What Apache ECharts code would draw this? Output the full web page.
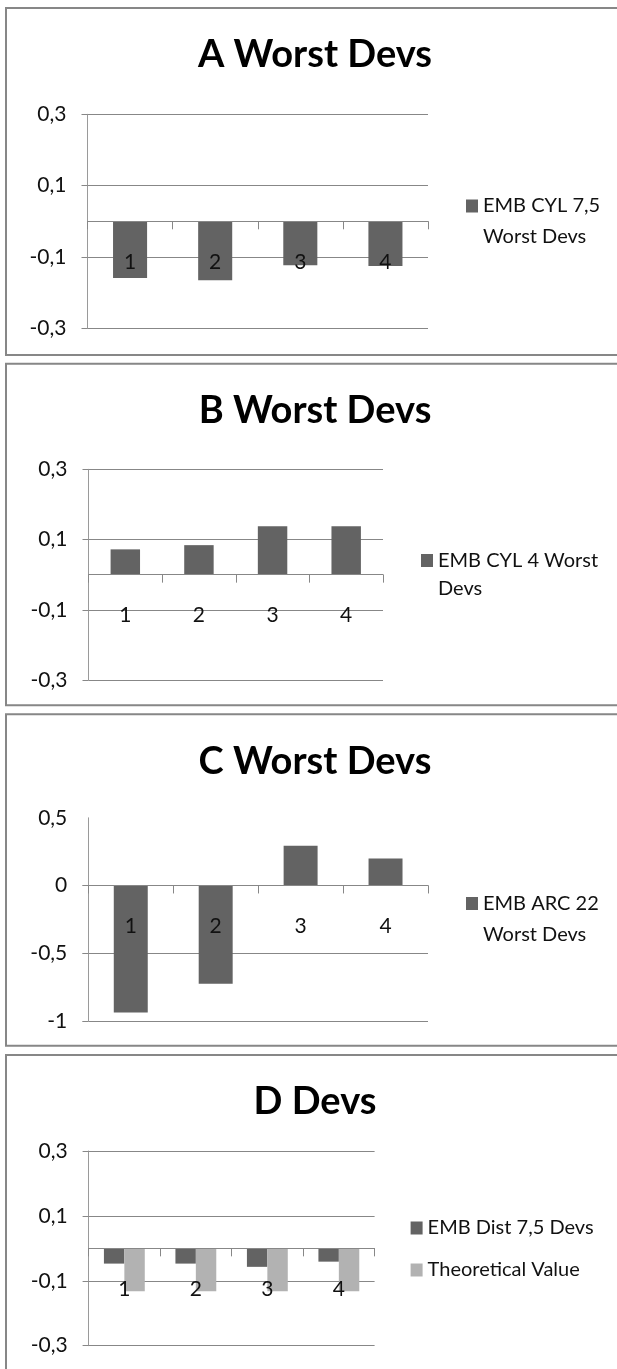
<!DOCTYPE html>
<html>
<head>
<meta charset="utf-8">
<title>Worst Devs</title>
<script src="https://cdn.jsdelivr.net/npm/echarts@6/dist/echarts.min.js"></script>
<style>
  html, body { margin: 0; padding: 0; background: #fff; overflow: hidden; }
  #chart { width: 617px; height: 1369px; }
</style>
</head>
<body>
<div id="chart"></div>
<script>
// ---- data ----
const categories = ['1', '2', '3', '4'];

const titleA = 'A Worst Devs';
const titleB = 'B Worst Devs';
const titleC = 'C Worst Devs';
const titleD = 'D Devs';

const nameA = 'EMB CYL 7,5 Worst Devs';
const nameB = 'EMB CYL 4 Worst Devs';
const nameC = 'EMB ARC 22 Worst Devs';
const nameD = 'EMB Dist 7,5 Devs';
const nameTheo = 'Theoretical Value';

const devsA = [-0.159, -0.165, -0.123, -0.125];
const devsB = [0.072, 0.084, 0.138, 0.138];
const devsC = [-0.939, -0.726, 0.294, 0.199];
const devsD = [-0.047, -0.047, -0.057, -0.041];
const theoreticalD = [-0.132, -0.132, -0.132, -0.132];

const ticksSmall = [-0.3, -0.1, 0.1, 0.3];
const ticksC = [-1, -0.5, 0, 0.5];
const gridLinesC = [-1, -0.5, 0];

// ---- styling ----
const FONT = 'Lato, "Open Sans", sans-serif';
const LINE = '#878787';
const DARK = '#636363';
const LIGHT = '#b2b2b2';
const TEXT = '#111111';

const panels = [
  {
    title: titleA, frameTop: 8, frameH: 347, min: -0.3, max: 0.3,
    labels: ticksSmall, lines: ticksSmall,
    grid: { left: 87.5, top: 114.3, width: 340.5, height: 214 },
    legend: { left: 466, iconY: 206, firstLineWords: 3, lh: 31 },
    series: [{ name: nameA, data: devsA, color: DARK }]
  },
  {
    title: titleB, frameTop: 363.7, frameH: 341.6, min: -0.3, max: 0.3,
    labels: ticksSmall, lines: ticksSmall,
    grid: { left: 88.5, top: 469.3, width: 294.5, height: 210.7 },
    legend: { left: 421, iconY: 560.5, firstLineWords: 4, lh: 28 },
    series: [{ name: nameB, data: devsB, color: DARK }]
  },
  {
    title: titleC, frameTop: 714.3, frameH: 331.5, min: -1, max: 0.5,
    labels: ticksC, lines: gridLinesC,
    grid: { left: 88.3, top: 817.8, width: 339.7, height: 203 },
    legend: { left: 466, iconY: 903.5, firstLineWords: 3, lh: 31 },
    series: [{ name: nameC, data: devsC, color: DARK }]
  },
  {
    title: titleD, frameTop: 1055, frameH: 400, min: -0.3, max: 0.3,
    labels: ticksSmall, lines: ticksSmall,
    grid: { left: 88.6, top: 1151, width: 286, height: 194.7 },
    legend: { left: 410.6, iconY: 1228, lh: 24, vertical: true },
    series: [
      { name: nameD, data: devsD, color: DARK },
      { name: nameTheo, data: theoreticalD, color: LIGHT }
    ]
  }
];

const fmt = v => String(v).replace('.', ',');

const option = {
  backgroundColor: '#ffffff',
  animation: false,
  textStyle: { fontFamily: FONT },
  title: [], grid: [], xAxis: [], yAxis: [], legend: [], series: [],
  graphic: []
};

panels.forEach((p, i) => {
  // chart frame
  option.graphic.push({
    type: 'rect', silent: true, z: 0,
    shape: { x: 6, y: p.frameTop, width: 700, height: p.frameH },
    style: { fill: 'none', stroke: LINE, lineWidth: 2 }
  });

  option.title.push({
    text: p.title, left: 315, top: p.frameTop + 28, textAlign: 'center', padding: 0,
    textStyle: { fontFamily: FONT, fontWeight: 'bold', fontSize: 38, color: '#000' }
  });

  option.grid.push(Object.assign({ containLabel: false }, p.grid));

  // category axis sits on the zero line: shift it up from the grid bottom
  const zeroOffset = -p.grid.height * (0 - p.min) / (p.max - p.min);

  option.xAxis.push({
    type: 'category', gridIndex: i, data: categories, z: 5,
    position: 'bottom', offset: zeroOffset,
    axisLine: { show: true, onZero: false, lineStyle: { color: LINE, width: 1 } },
    axisTick: { show: true, alignWithLabel: false, length: 8, lineStyle: { color: LINE } },
    axisLabel: { margin: 30, fontSize: 21, color: TEXT, fontFamily: FONT },
    splitLine: { show: false }
  });

  option.yAxis.push({
    type: 'value', gridIndex: i, min: p.min, max: p.max,
    axisLine: { show: true, lineStyle: { color: '#9a9a9a', width: 1 } },
    axisTick: { show: true, length: 6, customValues: p.lines, lineStyle: { color: LINE } },
    axisLabel: { customValues: p.labels, formatter: fmt, margin: 21, fontSize: 21, color: TEXT, fontFamily: FONT },
    splitLine: { show: true, lineStyle: { color: LINE, width: 1 } }
  });

  const lg = p.legend;
  if (lg.vertical) {
    option.legend.push({
      orient: 'vertical', left: lg.left, top: lg.iconY - lg.lh / 2, padding: 0,
      itemWidth: 12, itemHeight: 13, itemGap: 42 - lg.lh, icon: 'rect',
      data: p.series.map(s => s.name),
      textStyle: { fontSize: 20, color: TEXT, fontFamily: FONT, lineHeight: lg.lh }
    });
  } else {
    // two-line entry; a blank leading line keeps the swatch beside the first line
    const n = lg.firstLineWords;
    option.legend.push({
      orient: 'vertical', left: lg.left, top: lg.iconY - 1.5 * lg.lh, padding: 0,
      itemWidth: 12, itemHeight: 13, icon: 'rect',
      data: p.series.map(s => s.name),
      formatter: name => {
        const w = name.split(' ');
        return ' \n' + w.slice(0, n).join(' ') + '\n' + w.slice(n).join(' ');
      },
      textStyle: { fontSize: 20, color: TEXT, fontFamily: FONT, lineHeight: lg.lh }
    });
  }

  const multi = p.series.length > 1;
  p.series.forEach(s => {
    option.series.push({
      type: 'bar', name: s.name, xAxisIndex: i, yAxisIndex: i, data: s.data,
      barCategoryGap: multi ? '42.86%' : '60%', barGap: '0%',
      itemStyle: { color: s.color }
    });
  });
});

const chart = echarts.init(document.getElementById('chart'), null, { renderer: 'canvas' });
chart.setOption(option);
</script>
</body>
</html>
